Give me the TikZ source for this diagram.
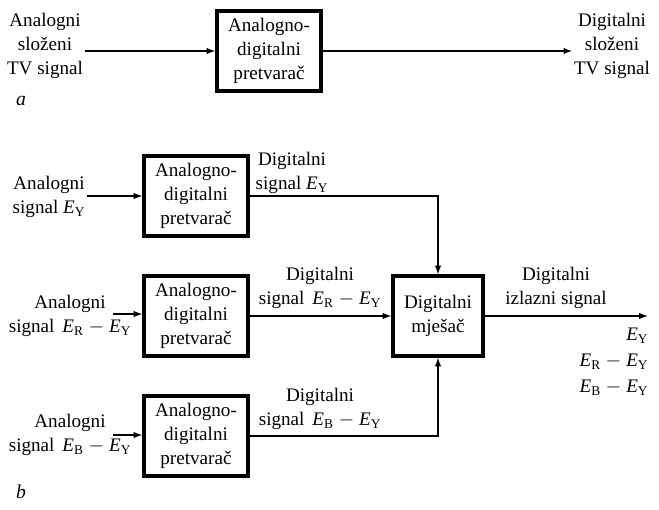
\documentclass[tikz,border=0pt]{standalone}
\usepackage{fontspec}
\setmainfont{Liberation Serif}
\usetikzlibrary{arrows.meta, positioning}
\newcommand{\Esig}[1]{\textit{E}\textsubscript{#1}}

\begin{document}
\begin{tikzpicture}[
  x=0.025cm, y=-0.025cm,
  adbox/.style={draw, line width=2.2pt, minimum width=2.6cm, minimum height=2.0cm, align=center, inner sep=2pt, font=\fontsize{13.6}{17}\selectfont},
  lbl/.style={align=center, inner sep=1pt, font=\fontsize{13.6}{17}\selectfont},
  arrow/.style={-{Latex[length=2.2mm, width=1.6mm]}, line width=0.9pt},
  wire/.style={line width=0.9pt}
]
  \useasboundingbox (0,0) rectangle (659,509);

  % a
  \node[lbl] (inA) at (45,46) {Analogni\\složeni\\TV signal};
  \node[adbox] (adA) at (269,51) {Analogno-\\digitalni\\pretvarač};
  \node[lbl] (outA) at (612,46) {Digitalni\\složeni\\TV signal};
  \node[lbl, font=\fontsize{14}{17}\selectfont\itshape] (capA) at (21,101) {a};
  \draw[arrow] (inA.east |- adA.west) -- (adA.west);
  \draw[arrow] (adA.east) -- (outA.west |- adA.east);

  % b
  \node[adbox] (adY) at (196,196) {Analogno-\\digitalni\\pretvarač};
  \node[adbox] (adR) at (196,316) {Analogno-\\digitalni\\pretvarač};
  \node[adbox] (adB) at (196,436) {Analogno-\\digitalni\\pretvarač};
  \node[adbox, minimum width=2.25cm] (mix) at (438,316) {Digitalni\\mješač};

  \node[lbl] (inY) at (49,197) {Analogni\\signal \Esig{Y}};
  \node[lbl] (inR) at (70,316) {Analogni\\signal\, \Esig{R} $-$ \Esig{Y}};
  \node[lbl] (inB) at (70,435) {Analogni\\signal\, \Esig{B} $-$ \Esig{Y}};
  \coordinate (inRtip) at (113,314);
  \coordinate (inBtip) at (113,435);

  \node[lbl] (dY) at (292,173) {Digitalni\\signal \Esig{Y}};
  \node[lbl] (dR) at (320,288) {Digitalni\\signal\, \Esig{R} $-$ \Esig{Y}};
  \node[lbl] (dB) at (320,409) {Digitalni\\signal\, \Esig{B} $-$ \Esig{Y}};
  \node[lbl] (dOut) at (556,288) {Digitalni\\izlazni signal};
  \node[lbl, align=right, anchor=north east, font=\fontsize{13.6}{18.5}\selectfont] (outList) at (650,326) {\Esig{Y}\\\Esig{R} $-$ \Esig{Y}\\\Esig{B} $-$ \Esig{Y}};
  \coordinate (outTip) at (648,316);
  \node[lbl, font=\fontsize{14}{17}\selectfont\itshape] (capB) at (21,492) {b};

  \draw[arrow] (inY.east |- adY.west) -- (adY.west);
  \draw[arrow] (inRtip) -- (adR.west |- inRtip);
  \draw[arrow] (inBtip) -- (adB.west |- inBtip);
  \draw[arrow] (adY.east) -| (mix.north);
  \draw[arrow] (adR.east) -- (mix.west);
  \draw[arrow] (adB.east) -| (mix.south);
  \draw[arrow] (mix.east) -- (outTip);
\end{tikzpicture}
\end{document}
